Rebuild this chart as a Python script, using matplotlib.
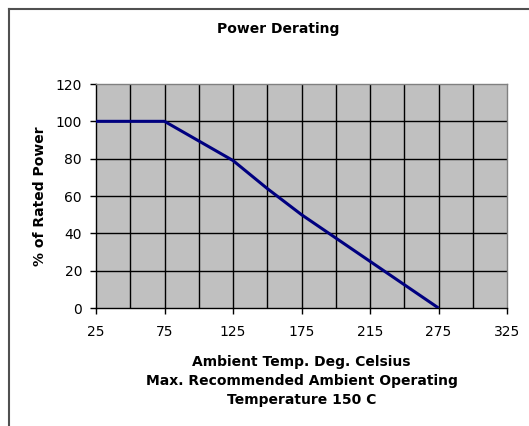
import matplotlib.pyplot as plt
from matplotlib.lines import Line2D

plt.rcParams['font.family'] = ['DejaVu Sans']

# data
temps = [25, 50, 75, 100, 125, 150, 175, 200, 225, 250, 275]
power = [100, 100, 100, 89.5, 79, 64, 50, 37.5, 25, 12.5, 0]

tick_pos = [25, 75, 125, 175, 225, 275, 325]
tick_labels = ["25", "75", "125", "175", "215", "275", "325"]
grid_x = list(range(25, 326, 25))
y_ticks = [0, 20, 40, 60, 80, 100, 120]

W, H = 529, 426
fig = plt.figure(figsize=(W / 100, H / 100), dpi=100)
fig.patch.set_facecolor("white")

# chart frame (left + top visible, rest cut off)
fig.add_artist(Line2D([9 / W, 9 / W], [0, 1 - 9 / H], color="#505050", lw=1.5))
fig.add_artist(Line2D([9 / W, 1], [1 - 9 / H, 1 - 9 / H], color="#505050", lw=1.5))

left, right, top, bottom = 96, 507, 84, 308
ax = fig.add_axes([left / W, (H - bottom) / H, (right - left) / W, (bottom - top) / H])
ax.set_facecolor("#C0C0C0")

for gx in grid_x[1:-1]:
    ax.axvline(gx, color="black", lw=1.0, zorder=1)
for gy in y_ticks[1:-1]:
    ax.axhline(gy, color="black", lw=1.0, zorder=1)

ax.plot(temps, power, color="#000080", lw=2.2, zorder=3, solid_capstyle="butt")

ax.set_xlim(25, 325)
ax.set_ylim(0, 120)
ax.set_xticks(tick_pos)
ax.set_xticklabels(tick_labels)
ax.set_yticks(y_ticks)
ax.tick_params(axis="both", direction="out", length=4, width=1, color="black",
               labelsize=10, pad=6)
ax.tick_params(axis="x", pad=8)

for s in ("top", "right"):
    ax.spines[s].set_color("#808080")
    ax.spines[s].set_linewidth(1)
for s in ("left", "bottom"):
    ax.spines[s].set_color("black")
    ax.spines[s].set_linewidth(1)

ax.set_ylabel("% of Rated Power", fontsize=10, fontweight="bold", labelpad=6)
ax.set_xlabel("Ambient Temp. Deg. Celsius\nMax. Recommended Ambient Operating\nTemperature 150 C",
              fontsize=10, fontweight="bold", labelpad=12, linespacing=1.45)

fig.text(278 / W, 1 - 29 / H, "Power Derating", ha="center", va="center",
         fontsize=10, fontweight="bold")

fig.savefig("out.png", dpi=100)
